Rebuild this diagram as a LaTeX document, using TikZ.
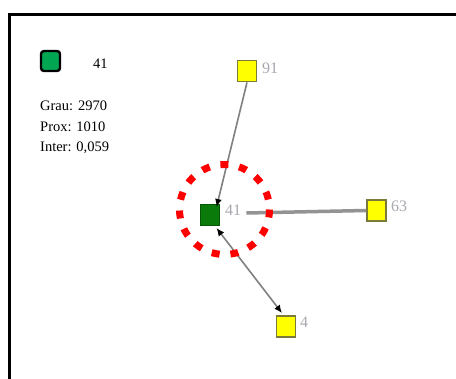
\documentclass[tikz,border=0pt]{standalone}
\usepackage{fontspec}
\setmainfont{Liberation Serif}
\usetikzlibrary{arrows.meta}
\definecolor{legendgreen}{HTML}{00A651}
\definecolor{nodegreen}{HTML}{0A7A0A}
\definecolor{nodeyellow}{HTML}{FFFF00}
\definecolor{nodeborder}{HTML}{7A7A3A}
\definecolor{edgegray}{HTML}{808080}
\definecolor{labelgray}{HTML}{A8A8B0}
\tikzset{
  x=1pt, y=-1pt,
  ynode/.style={draw=nodeborder, line width=1.8pt, fill=nodeyellow, minimum width=19pt, minimum height=21pt, inner sep=0pt},
  gnode/.style={draw=nodegreen!70!black, line width=1pt, fill=nodegreen, minimum width=19pt, minimum height=21pt, inner sep=0pt},
  nlabel/.style={text=labelgray, font=\fontsize{16}{18}\selectfont, inner sep=0pt, anchor=west},
  info/.style={font=\fontsize{14.5}{17}\selectfont, inner sep=0pt, anchor=west},
  edge/.style={draw=edgegray, line width=1.6pt},
  btip/.tip={Latex[length=8pt,width=7pt,black]},
}
\begin{document}
\begin{tikzpicture}
\useasboundingbox (0,0) rectangle (456,379);
\fill[white] (0,0) rectangle (456,379);
% frame
\draw[line width=3pt] (9,382) -- (9,15) -- (459,15);
% legend
\node[draw=black, line width=2.4pt, fill=legendgreen, rounded corners=3pt, minimum width=19pt, minimum height=20pt, inner sep=0pt] (leg) at (50.5,61) {};
\node[info] (legl) at (93,64) {41};
\node[info] (grau) at (40,106) {Grau: 2970};
\node[info] (prox) at (40,127) {Prox: 1010};
\node[info] (inter) at (40,148) {Inter: 0,059};
% nodes
\node[ynode] (n91) at (247,71) {};
\node[ynode] (n63) at (376.5,210.5) {};
\node[ynode] (n4) at (286,326.5) {};
\node[gnode] (n41) at (209.5,215) {};
\node[nlabel] (l91) at (262,68) {91};
\node[nlabel] (l63) at (391,206) {63};
\node[nlabel] (l4) at (300,322) {4};
\node[nlabel] (l41) at (225,210) {41};
% edges
\draw[edge, line width=3.5pt, draw=edgegray!85] (l41.east) ++(5,3) coordinate (e63s) -- (n63.west);
\draw[edge, -btip] (n91.south) -- ([xshift=7pt,yshift=-3pt]n41.north);
\draw[edge, btip-btip] ([xshift=7pt,yshift=-2pt]n41.south) -- ([xshift=-4pt,yshift=2pt]n4.north);
% red dotted circle
\draw[red, line width=7pt, dash pattern=on 8pt off 10.9pt] (224.5,209.5) circle[radius=45];
\end{tikzpicture}
\end{document}
